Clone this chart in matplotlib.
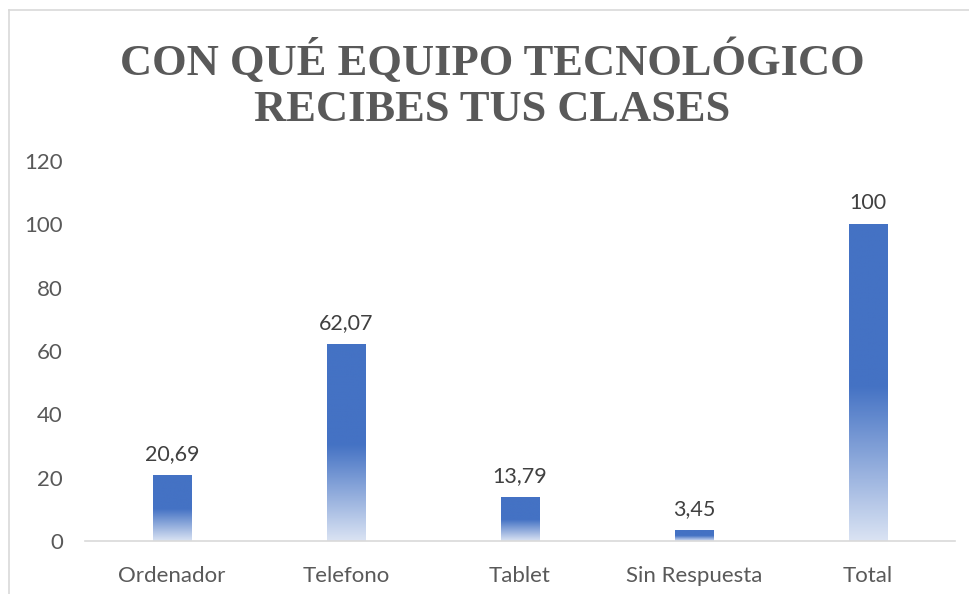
import matplotlib

matplotlib.use("Agg")
import matplotlib.pyplot as plt
import numpy as np
from matplotlib.colors import LinearSegmentedColormap
from matplotlib.lines import Line2D

categories = ["Ordenador", "Telefono", "Tablet", "Sin Respuesta", "Total"]
values = [20.69, 62.07, 13.79, 3.45, 100]
value_labels = ["20,69", "62,07", "13,79", "3,45", "100"]
y_ticks = [0, 20, 40, 60, 80, 100, 120]

TITLE = "CON QUÉ EQUIPO TECNOLÓGICO\nRECIBES TUS CLASES"
BLUE = "#4472C4"
LIGHT = "#DAE3F3"
TEXT = "#595959"

plt.rcParams["font.family"] = ["Lato", "DejaVu Sans"]

fig = plt.figure(figsize=(9.7, 5.94), dpi=100)
ax = fig.add_axes([85 / 970, 1 - 541 / 594, 870 / 970, 380 / 594])

# vertical fade: light at the base, solid blue from about half height up
cmap = LinearSegmentedColormap.from_list("fade", [(0, LIGHT), (0.49, BLUE), (1, BLUE)])
grad = np.linspace(0, 1, 256).reshape(-1, 1)

bars = ax.bar(range(len(categories)), values, width=0.22, color="none", edgecolor="none")
for bar, lab in zip(bars, value_labels):
    x0, w, h = bar.get_x(), bar.get_width(), bar.get_height()
    im = ax.imshow(grad, cmap=cmap, origin="lower", aspect="auto",
                   extent=(x0, x0 + w, 0, h), zorder=2)
    im.set_clip_path(bar)
    ax.annotate(lab, (x0 + w / 2, h), xytext=(0, 8), textcoords="offset points",
                ha="center", va="bottom", fontsize=15.5, color="#404040")

ax.set_xlim(-0.5, len(categories) - 0.5)
ax.set_ylim(0, 120)
ax.set_yticks(y_ticks)
ax.set_xticks(range(len(categories)))
ax.set_xticklabels(categories)
ax.tick_params(length=0, labelsize=16, labelcolor=TEXT)
ax.tick_params(axis="y", pad=16)
ax.tick_params(axis="x", pad=18)
for s in ("top", "right", "left"):
    ax.spines[s].set_visible(False)
ax.spines["bottom"].set_color("#D9D9D9")
ax.spines["bottom"].set_linewidth(1.2)

fig.text(492 / 970, 1 - 84 / 594, TITLE, ha="center", va="center",
         family="Liberation Serif", weight="bold", fontsize=32, color=TEXT,
         linespacing=1.2)

# chart-area border (only top and left edges are visible in the crop)
fig.add_artist(Line2D([9 / 970, 9 / 970], [0, 1 - 10 / 594], color="#D9D9D9", lw=1.2))
fig.add_artist(Line2D([9 / 970, 1], [1 - 10 / 594, 1 - 10 / 594], color="#D9D9D9", lw=1.2))

fig.savefig("out.png", dpi=100)
